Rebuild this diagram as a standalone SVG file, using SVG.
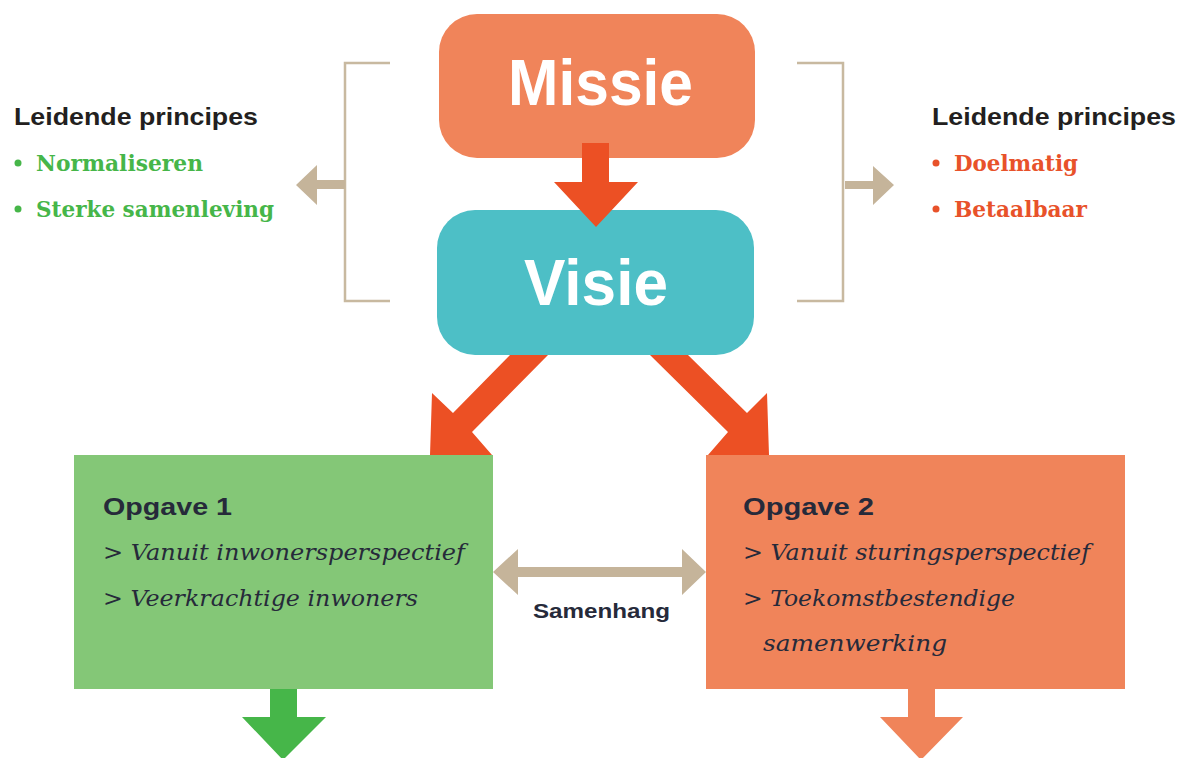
<svg xmlns="http://www.w3.org/2000/svg" width="1179" height="758" viewBox="0 0 1179 758">
<style>
.sans{font-family:"Liberation Sans","Open Sans",Arial,sans-serif;font-weight:bold}
.title{font-size:64px;fill:#ffffff}
.head{font-size:24px;fill:#231f20}
.opg{font-size:24px;fill:#262a3a}
.ser{font-family:"DejaVu Serif","Liberation Serif",serif}
.bul{font-size:23px;font-weight:bold}
.it{font-size:23px;font-style:italic;fill:#262a3a}
.green{fill:#46b649}
.red{fill:#e8522a}
.bracket{fill:none;stroke:#c8b9a0;stroke-width:2.5}
</style>
<rect width="1179" height="758" fill="#ffffff"/>
<g id="missie">
  <rect x="439" y="14" width="316" height="144" rx="38" fill="#f0845a"/>
  <text class="sans title" x="508" y="105" textLength="185" lengthAdjust="spacingAndGlyphs">Missie</text>
</g>
<g id="visie">
  <rect x="437" y="210" width="317" height="145" rx="38" fill="#4dbfc6"/>
  <text class="sans title" x="524" y="305" textLength="144" lengthAdjust="spacingAndGlyphs">Visie</text>
</g>
<g id="principes-links">
  <text class="sans head" x="14" y="125" textLength="244" lengthAdjust="spacingAndGlyphs">Leidende principes</text>
  <circle class="green" cx="18" cy="163" r="3.5"/>
  <text class="ser bul green" x="36" y="171" textLength="167" lengthAdjust="spacingAndGlyphs">Normaliseren</text>
  <circle class="green" cx="18" cy="209" r="3.5"/>
  <text class="ser bul green" x="36" y="217" textLength="238" lengthAdjust="spacingAndGlyphs">Sterke samenleving</text>
</g>
<g id="principes-rechts">
  <text class="sans head" x="932" y="125" textLength="244" lengthAdjust="spacingAndGlyphs">Leidende principes</text>
  <circle class="red" cx="936" cy="163" r="3.5"/>
  <text class="ser bul red" x="954" y="171" textLength="124" lengthAdjust="spacingAndGlyphs">Doelmatig</text>
  <circle class="red" cx="936" cy="209" r="3.5"/>
  <text class="ser bul red" x="954" y="217" textLength="133" lengthAdjust="spacingAndGlyphs">Betaalbaar</text>
</g>
<g id="opgave1">
  <rect x="74" y="455" width="419" height="234" fill="#84c777"/>
  <text class="sans opg" x="103" y="515" textLength="129" lengthAdjust="spacingAndGlyphs">Opgave 1</text>
  <text class="ser it" x="103" y="560" textLength="362" lengthAdjust="spacingAndGlyphs">&gt; Vanuit inwonersperspectief</text>
  <text class="ser it" x="103" y="606" textLength="315" lengthAdjust="spacingAndGlyphs">&gt; Veerkrachtige inwoners</text>
</g>
<g id="opgave2">
  <rect x="706" y="455" width="419" height="234" fill="#f0845a"/>
  <text class="sans opg" x="743" y="515" textLength="131" lengthAdjust="spacingAndGlyphs">Opgave 2</text>
  <text class="ser it" x="743" y="560" textLength="347" lengthAdjust="spacingAndGlyphs">&gt; Vanuit sturingsperspectief</text>
  <text class="ser it" x="743" y="606" textLength="272" lengthAdjust="spacingAndGlyphs">&gt; Toekomstbestendige</text>
  <text class="ser it" x="763" y="651" textLength="184" lengthAdjust="spacingAndGlyphs">samenwerking</text>
</g>
<g id="samenhang">
  <text class="sans" x="533" y="618" font-size="20" fill="#262a3a" textLength="137" lengthAdjust="spacingAndGlyphs">Samenhang</text>
</g>
<g id="connectors">
  <path class="bracket" d="M390,63 H345 V301 H390"/>
  <path class="bracket" d="M797,63 H843 V301 H797"/>
  <polygon fill="#c5b49a" points="345,180 317,180 317,165 296,185 317,205 317,189 345,189"/>
  <polygon fill="#c5b49a" points="845,181 873,181 873,166 894,185 873,205 873,189 845,189"/>
  <polygon fill="#ec5024" points="582,143 609,143 609,182 638,182 596,227 554,182 582,182"/>
  <polygon fill="#ec5024" points="510,355 548,355 472,432 492,455 430,455 432,393 453,413"/>
  <polygon fill="#ec5024" points="688,355 650,355 728,432 708,455 769,455 767,393 747,413"/>
  <polygon fill="#c5b49a" points="493,572 518,549 518,567 682,567 682,549 706,572 682,595 682,577 518,577 518,595"/>
  <polygon fill="#46b649" points="270,689 297,689 297,717 326,717 283,760 242,717 270,717"/>
  <polygon fill="#f0845a" points="908,689 935,689 935,717 963,717 921,760 880,717 908,717"/>
</g>
</svg>
